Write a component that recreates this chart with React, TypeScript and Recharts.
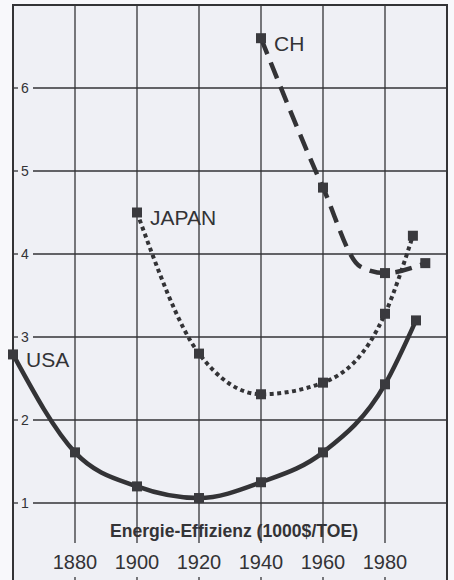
import React from 'react';
import { LineChart, Line, XAxis, YAxis, CartesianGrid, ReferenceArea } from 'recharts';

// values (Energie-Effizienz, 1000$/TOE)
const usaYears = [1860, 1880, 1900, 1920, 1940, 1960, 1980, 1990];
const usaValues = [2.79, 1.61, 1.2, 1.06, 1.25, 1.61, 2.43, 3.2];

const japanYears = [1900, 1920, 1940, 1960, 1980, 1989];
const japanValues = [4.5, 2.8, 2.31, 2.45, 3.28, 4.22];

const chYears = [1940, 1960, 1972, 1980, 1993];
const chValues = [6.6, 4.8, 3.85, 3.77, 3.89];
const chMarked = [true, true, false, true, true];

const xTicks = [1880, 1900, 1920, 1940, 1960, 1980];
const yTicks = [1, 2, 3, 4, 5, 6];
const axisTitle = 'Energie-Effizienz (1000$/TOE)';

const toRows = (years: number[], values: number[]) =>
  years.map((year, i) => ({ year, value: values[i] }));

const usa = toRows(usaYears, usaValues);
const japan = toRows(japanYears, japanValues);
const ch = toRows(chYears, chValues);

const INK = '#333336';
const FONT = '"Liberation Sans", Arial, sans-serif';

const squareDot = (marked?: boolean[]) => (props: any) => {
  const { cx, cy, index } = props;
  if (marked && !marked[index]) return <g key={`d-${index}`} />;
  return <rect key={`d-${index}`} x={cx - 5} y={cy - 5} width={10} height={10} fill="#3a3a3e" />;
};

const seriesName = (name: string) => (props: any) => {
  const { x, y, index } = props;
  if (index !== 0) return <g key={`l-${index}`} />;
  return (
    <text key={`l-${index}`} x={x + 13} y={y + 5} dominantBaseline="central" fontSize={21} fill={INK} fontFamily={FONT}>
      {name}
    </text>
  );
};

const XTick = (props: any) => {
  const { x, payload } = props;
  return (
    <g>
      <text x={x} y={569} textAnchor="middle" fontSize={20} fill={INK} fontFamily={FONT}>
        {payload.value}
      </text>
      <line x1={x} x2={x} y1={577} y2={590} stroke={INK} strokeWidth={1.3} />
    </g>
  );
};

const YTick = (props: any) => {
  const { y, payload } = props;
  return (
    <g>
      <line x1={13} x2={18} y1={y} y2={y} stroke={INK} strokeWidth={1.3} />
      <text x={25} y={y} textAnchor="middle" dominantBaseline="central" fontSize={14} fill={INK} fontFamily={FONT}>
        {payload.value}
      </text>
    </g>
  );
};

const AxisTitle = (props: any) => {
  const { viewBox } = props;
  const cx = viewBox ? viewBox.x + viewBox.width / 2 : 230;
  return (
    <text
      x={cx + 4}
      y={537}
      textAnchor="middle"
      fontSize={19}
      fontWeight="bold"
      fill={INK}
      fontFamily={FONT}
      textLength={248}
      lengthAdjust="spacingAndGlyphs"
    >
      {axisTitle}
    </text>
  );
};

export default function App() {
  return (
    <div style={{ position: 'absolute', left: 0, top: 0, width: 454, height: 580, overflow: 'hidden', background: '#f8f8fb' }}>
      <LineChart width={454} height={620} margin={{ top: 5, right: 7, bottom: 14, left: 0 }}>
        <CartesianGrid
          fill="#eff0f5"
          stroke={INK}
          strokeWidth={1.3}
          vertical={(p: any) => <line key={p.key} x1={p.x1} x2={p.x2} y1={p.y1} y2={543} stroke={INK} strokeWidth={1.3} />}
          horizontal={(p: any) => <line key={p.key} x1={p.x1 + 20} x2={p.x2} y1={p.y1} y2={p.y2} stroke={INK} strokeWidth={1.3} />}
        />
        <XAxis
          type="number"
          dataKey="year"
          domain={[1860, 2000]}
          ticks={xTicks}
          height={20}
          axisLine={false}
          tickLine={false}
          tick={<XTick />}
          interval={0}
          label={<AxisTitle />}
        />
        <YAxis
          type="number"
          domain={[0, 7]}
          ticks={yTicks}
          width={13}
          axisLine={false}
          tickLine={false}
          tick={<YTick />}
          interval={0}
        />
        <ReferenceArea x1={1860} x2={2000} y1={0} y2={7} fill="none" stroke={INK} strokeWidth={2} />
        <Line
          data={usa}
          dataKey="value"
          type="monotone"
          stroke={INK}
          strokeWidth={4.5}
          dot={squareDot()}
          label={seriesName('USA')}
          isAnimationActive={false}
        />
        <Line
          data={japan}
          dataKey="value"
          type="monotone"
          stroke={INK}
          strokeWidth={4}
          strokeDasharray="4 3.5"
          dot={squareDot()}
          label={seriesName('JAPAN')}
          isAnimationActive={false}
        />
        <Line
          data={ch}
          dataKey="value"
          type="monotone"
          stroke={INK}
          strokeWidth={4.5}
          strokeDasharray="17 9"
          dot={squareDot(chMarked)}
          label={seriesName('CH')}
          isAnimationActive={false}
        />
      </LineChart>
    </div>
  );
}
